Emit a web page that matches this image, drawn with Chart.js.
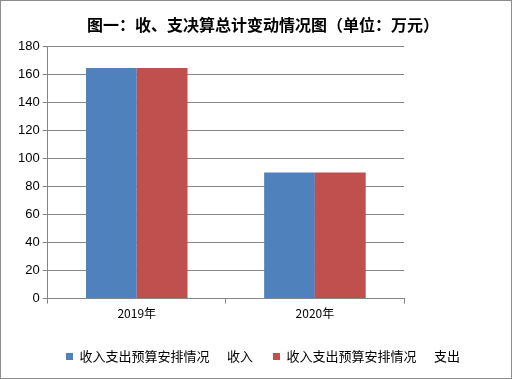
<!DOCTYPE html>
<html>
<head>
<meta charset="utf-8">
<script src="https://cdn.jsdelivr.net/npm/chart.js@4/dist/chart.umd.min.js"></script>
<style>
  html, body { margin: 0; padding: 0; background: #fff; }
  #wrap { width: 510px; height: 377px; border: 1px solid #8c8c8c; }
</style>
</head>
<body>
<div id="wrap"><canvas id="chart" width="510" height="377"></canvas></div>
<script>
// 数据
const categories = ["2019年", "2020年"];
const seriesNames = ["收入支出预算安排情况      收入", "收入支出预算安排情况      支出"];
const incomeValues = [164.5, 90];
const expenseValues = [164.5, 90];
const yTicks = [0, 20, 40, 60, 80, 100, 120, 140, 160, 180];

const FONT = "'Noto Sans CJK SC', 'Liberation Sans', sans-serif";

new Chart(document.getElementById("chart").getContext("2d"), {
    type: "bar",
    data: {
        labels: categories,
        datasets: [
            { label: seriesNames[0], data: incomeValues, backgroundColor: "#4f81bd", categoryPercentage: 0.57, barPercentage: 1 },
            { label: seriesNames[1], data: expenseValues, backgroundColor: "#c0504d", categoryPercentage: 0.57, barPercentage: 1 },
        ],
    },
    options: {
        responsive: false,
        animation: false,
        layout: { padding: { left: 14, right: 0, top: 6, bottom: 5 } },
        plugins: {
            title: {
                display: true,
                text: "图一：收、支决算总计变动情况图（单位：万元）",
                color: "#000",
                font: { family: FONT, size: 16, weight: "bold" },
                padding: { top: 8, bottom: 12 },
            },
            legend: {
                position: "bottom",
                labels: {
                    color: "#000",
                    font: { family: FONT, size: 13 },
                    boxWidth: 7,
                    boxHeight: 7,
                    padding: 20,
                },
            },
            tooltip: { enabled: false },
        },
        scales: {
            x: {
                grid: { display: true, drawOnChartArea: false, drawTicks: true, tickLength: 5, color: "#868686", offset: true },
                border: { color: "#868686" },
                ticks: { color: "#000", font: { family: FONT, size: 12 }, padding: 3 },
                afterFit: (scale) => { scale.height += 6; },
            },
            y: {
                min: 0,
                max: 180,
                afterBuildTicks: (axis) => { axis.ticks = yTicks.map(v => ({ value: v })); },
                grid: { color: "#868686", tickLength: 5 },
                border: { color: "#868686" },
                ticks: { color: "#000", font: { family: "'Liberation Sans', sans-serif", size: 13 }, padding: 3 },
            },
            yRight: {
                position: "right",
                display: true,
                grid: { display: false },
                border: { display: false },
                ticks: { display: false },
                afterFit: (scale) => { scale.width = 107; },
            },
        },
    },
});
</script>
</body>
</html>
